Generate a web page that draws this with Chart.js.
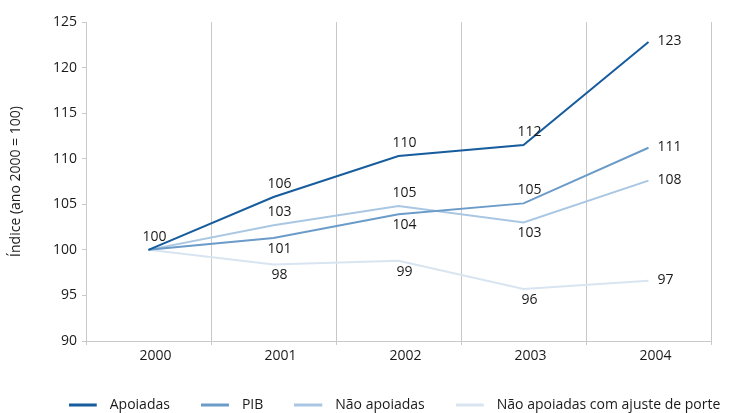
<!DOCTYPE html>
<html>
<head>
<meta charset="utf-8">
<script src="https://cdn.jsdelivr.net/npm/chart.js@4.4.0/dist/chart.umd.min.js"></script>
<style>
  body { margin: 0; background: #fff; }
  #wrap { width: 732px; height: 413px; }
</style>
</head>
<body>
<div id="wrap"><canvas id="chartscreen"></canvas></div>
<script>
// chart data
const years = ["2000", "2001", "2002", "2003", "2004"];
const apoiadas = [100, 105.8, 110.3, 111.5, 122.8];
const pib = [100, 101.3, 103.9, 105.1, 111.2];
const naoApoiadas = [100, 102.7, 104.8, 103.0, 107.6];
const naoApoiadasAjuste = [100, 98.4, 98.8, 95.7, 96.6];
const seriesNames = ["Apoiadas", "PIB", "Não apoiadas", "Não apoiadas com ajuste de porte"];
const yTicks = [90, 95, 100, 105, 110, 115, 120, 125];

// where each value label sits relative to its point (a = above, b = below, r = right, - = none)
const labelPos = [
  ["a", "a", "a", "a", "r"],
  ["-", "b", "b", "a", "r"],
  ["-", "a", "a", "b", "r"],
  ["-", "b", "b", "b", "r"]
];

const colors = ["#175c9c", "#6b9bc8", "#a9c7e2", "#d8e5f1"];
const fontFamily = "'Open Sans', 'Noto Sans', sans-serif";
const txtColor = "#1a1a1a";

// legend sample: short line with some empty space after it
function legendSample(color) {
  const c = document.createElement("canvas");
  c.width = 34;
  c.height = 4;
  const cx = c.getContext("2d");
  cx.fillStyle = color;
  cx.fillRect(0, 0.5, 28, 3);
  return c;
}

// draw the rounded values next to the points
const valueLabels = {
  id: "valueLabels",
  afterLayout(chart) {
    // legend row sits right of the canvas centre in the original,
    // widen the box so the last item stays on the same row
    if (chart.legend) {
      chart.legend.left = 19;
      chart.legend.right = 770;
    }
  },
  afterDatasetsDraw(chart) {
    const ctx = chart.ctx;
    ctx.save();
    ctx.font = "14px " + fontFamily;
    ctx.fillStyle = txtColor;
    ctx.textBaseline = "middle";
    chart.data.datasets.forEach((ds, d) => {
      const meta = chart.getDatasetMeta(d);
      meta.data.forEach((pt, i) => {
        const pos = labelPos[d][i];
        if (pos == "-") return;
        const txt = String(Math.round(ds.data[i]));
        if (pos == "r") {
          ctx.textAlign = "left";
          ctx.fillText(txt, pt.x + 9, pt.y - 1);
        } else if (pos == "a") {
          ctx.textAlign = "center";
          ctx.fillText(txt, pt.x + 6, pt.y - 13);
        } else {
          ctx.textAlign = "center";
          ctx.fillText(txt, pt.x + 6, pt.y + 11);
        }
      });
    });
    ctx.restore();
  }
};

const seriesData = [apoiadas, pib, naoApoiadas, naoApoiadasAjuste];

new Chart(document.getElementById("chartscreen"), {
  type: "line",
  data: {
    labels: years,
    datasets: seriesData.map((vals, k) => ({
      label: seriesNames[k],
      data: vals,
      borderColor: colors[k],
      backgroundColor: colors[k],
      borderWidth: 2,
      pointRadius: 0,
      tension: 0,
      pointStyle: legendSample(colors[k])
    }))
  },
  options: {
    responsive: true,
    maintainAspectRatio: false,
    animation: false,
    layout: { padding: { top: 22, right: 0, left: 5, bottom: -9 } },
    plugins: {
      tooltip: { enabled: false },
      legend: {
        position: "bottom",
        fullSize: true,
        labels: {
          usePointStyle: true,
          pointStyleWidth: 34,
          boxHeight: 4,
          padding: 31,
          color: txtColor,
          font: { family: fontFamily, size: 14 }
        }
      }
    },
    scales: {
      x: {
        offset: true,
        afterFit: s => { s.height = 26; },
        grid: {
          offset: true,
          color: "#c9c9c9",
          lineWidth: 1,
          drawTicks: true,
          tickLength: 4
        },
        border: { color: "#c9c9c9" },
        ticks: {
          color: txtColor,
          font: { family: fontFamily, size: 14 },
          padding: 3,
          labelOffset: 7
        }
      },
      y: {
        min: 90,
        max: 125,
        afterBuildTicks: s => { s.ticks = yTicks.map(v => ({ value: v })); },
        afterFit: s => { s.width = 81; },
        grid: {
          drawOnChartArea: false,
          drawTicks: true,
          tickLength: 4,
          color: "#c9c9c9"
        },
        border: { color: "#c9c9c9" },
        ticks: {
          color: txtColor,
          font: { family: fontFamily, size: 14 },
          padding: 5
        },
        title: {
          display: true,
          text: "Índice (ano 2000 = 100)",
          color: txtColor,
          font: { family: fontFamily, size: 14 },
          padding: { top: 3, bottom: 4 }
        }
      },
      // empty axis that only keeps space on the right of the plot
      yRight: {
        position: "right",
        min: 0,
        max: 1,
        afterFit: s => { s.width = 21; },
        grid: { display: false },
        border: { display: false },
        ticks: { display: false }
      }
    }
  },
  plugins: [valueLabels]
});
</script>
</body>
</html>
